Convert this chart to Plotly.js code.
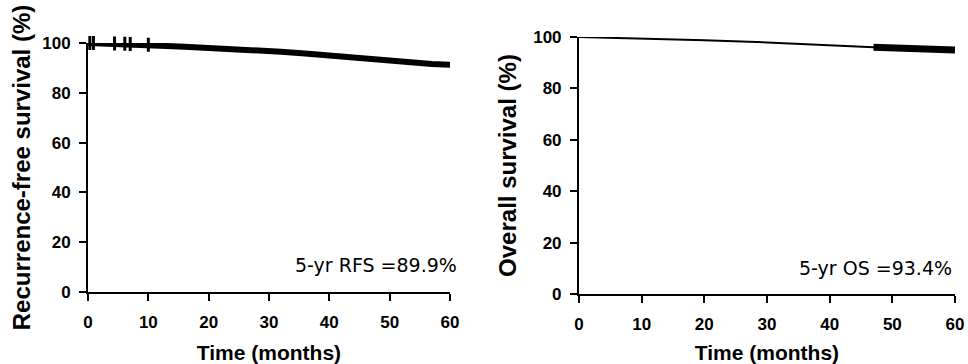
<!DOCTYPE html>
<html>
<head>
<meta charset="utf-8">
<script src="https://cdn.plot.ly/plotly-3.0.1.min.js"></script>
<style>html,body{margin:0;padding:0;background:#fff;}#chart{width:968px;height:364px;}</style>
</head>
<body>
<div id="chart"></div>
<script>
// Recurrence-free survival (left panel)
const rfsTime = [0, 2, 5, 8, 10, 13, 16, 20, 24, 28, 32, 36, 40, 43, 46, 47, 50, 54, 57, 60];
const rfsSurv = [100, 99.9, 99.7, 99.4, 99.1, 98.8, 98.5, 98.1, 97.6, 97.1, 96.5, 95.8, 95.0, 94.5, 94.0, 93.2, 92.6, 92.0, 91.6, 91.3];
const rfsCensorTime = [0.3, 0.9, 4.4, 6.1, 7.0, 10.0];
const rfsCensorSurv = [100, 100, 99.8, 99.7, 99.6, 99.3];
// Overall survival (right panel)
const osTime = [0, 10, 20, 30, 40, 47, 50, 55, 60];
const osSurv = [100, 99.4, 98.7, 97.9, 96.9, 96.0, 95.6, 95.2, 94.9];
const osDenseFrom = 47;
// Tick labels
const xTicks = [0, 10, 20, 30, 40, 50, 60];
const yTicks = [0, 20, 40, 60, 80, 100];
const rfsLabel = '5-yr RFS =89.9%';
const osLabel = '5-yr OS =93.4%';

const osDenseIdx = osTime.map((t, i) => i).filter(i => osTime[i] >= osDenseFrom);

const traces = [
  {x: rfsTime, y: rfsSurv, xaxis: 'x', yaxis: 'y', mode: 'lines', line: {shape: 'linear', color: '#000', width: 6}, cliponaxis: false, hoverinfo: 'skip'},
  {x: rfsCensorTime, y: rfsCensorSurv, xaxis: 'x', yaxis: 'y', mode: 'markers',
   marker: {symbol: 'line-ns', size: 10, color: '#000', line: {color: '#000', width: 3}}, cliponaxis: false, hoverinfo: 'skip'},
  {x: osTime, y: osSurv, xaxis: 'x2', yaxis: 'y2', mode: 'lines', line: {shape: 'linear', color: '#000', width: 2}, cliponaxis: false, hoverinfo: 'skip'},
  {x: osDenseIdx.map(i => osTime[i]), y: osDenseIdx.map(i => osSurv[i]), xaxis: 'x2', yaxis: 'y2', mode: 'lines', line: {color: '#000', width: 7}, cliponaxis: false, hoverinfo: 'skip'}
];

const tickFont = {family: 'Liberation Sans, Arial, sans-serif', size: 17, color: '#000', weight: 'bold'};
const yTitleFont = {family: 'Liberation Sans, Arial, sans-serif', size: 24, color: '#000', weight: 'bold'};
const xTitleFont = {family: 'Liberation Sans, Arial, sans-serif', size: 21, color: '#000', weight: 'bold'};
const noteFont = {family: 'DejaVu Sans, sans-serif', size: 19, color: '#000'};

function xAxis(domain, anchor) {
  return {domain: domain, anchor: anchor, range: [0, 60], tickvals: xTicks, ticktext: xTicks.map(String),
    showline: true, linewidth: 2, linecolor: '#000', ticks: 'outside', ticklen: 7, tickwidth: 2, tickcolor: '#000',
    ticklabelstandoff: 7,
    showgrid: false, zeroline: false, tickfont: tickFont,
    title: {text: 'Time (months)', font: xTitleFont, standoff: 16}};
}
function yAxis(domain, anchor, title, standoff) {
  return {domain: domain, anchor: anchor, range: [0, 100], tickvals: yTicks, ticktext: yTicks.map(String),
    showline: true, linewidth: 2, linecolor: '#000', ticks: 'outside', ticklen: 7, tickwidth: 2, tickcolor: '#000',
    ticklabelstandoff: 5,
    showgrid: false, zeroline: false, tickfont: tickFont,
    title: {text: title, font: yTitleFont, standoff: standoff}};
}

const layout = {
  width: 968, height: 364,
  margin: {l: 88, r: 13, t: 37, b: 70},
  paper_bgcolor: '#fff', plot_bgcolor: '#fff',
  showlegend: false,
  xaxis: xAxis([0, 0.4175], 'y'),
  yaxis: yAxis([0.0078, 0.9767], 'x', 'Recurrence-free survival (%)', 5),
  xaxis2: xAxis([0.5663, 1], 'y2'),
  yaxis2: yAxis([0, 1], 'x2', 'Overall survival (%)', 10),
  annotations: [
    {xref: 'x', yref: 'y', x: 60, y: 11, xanchor: 'right', yanchor: 'middle', xshift: 9, text: rfsLabel, showarrow: false, font: noteFont},
    {xref: 'x2', yref: 'y2', x: 60, y: 10, xanchor: 'right', yanchor: 'middle', xshift: -1, text: osLabel, showarrow: false, font: noteFont}
  ]
};

Plotly.newPlot('chart', traces, layout, {staticPlot: true, displayModeBar: false});
</script>
</body>
</html>
